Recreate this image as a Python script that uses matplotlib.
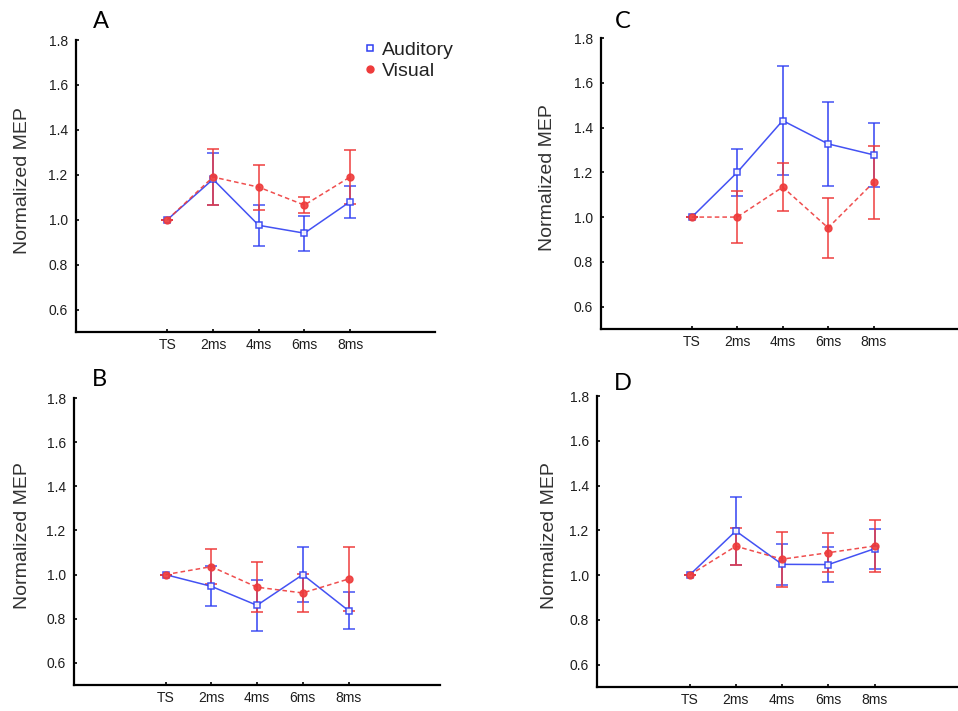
import matplotlib
matplotlib.use("Agg")
import matplotlib.pyplot as plt
from matplotlib.lines import Line2D

# interval labels on the x axis
intervals = ['TS', '2ms', '4ms', '6ms', '8ms']

# normalized MEP means and error bars, per panel
a_aud = [1.0, 1.18, 0.975, 0.94, 1.08]
a_aud_err = [0, 0.115, 0.092, 0.078, 0.072]
a_vis = [1.0, 1.19, 1.145, 1.065, 1.19]
a_vis_err = [0, 0.125, 0.10, 0.035, 0.12]

b_aud = [1.0, 0.947, 0.861, 1.0, 0.837]
b_aud_err = [0, 0.09, 0.115, 0.125, 0.084]
b_vis = [1.0, 1.036, 0.943, 0.917, 0.98]
b_vis_err = [0, 0.078, 0.113, 0.088, 0.143]

c_aud = [1.0, 1.20, 1.431, 1.327, 1.278]
c_aud_err = [0, 0.106, 0.245, 0.186, 0.142]
c_vis = [1.0, 1.0, 1.134, 0.952, 1.155]
c_vis_err = [0, 0.115, 0.107, 0.133, 0.163]

d_aud = [1.0, 1.197, 1.048, 1.047, 1.118]
d_aud_err = [0, 0.153, 0.093, 0.08, 0.09]
d_vis = [1.0, 1.129, 1.071, 1.10, 1.13]
d_vis_err = [0, 0.082, 0.123, 0.087, 0.115]

yticks = [0.6, 0.8, 1.0, 1.2, 1.4, 1.6, 1.8]

BLUE = '#2f3ff2'
RED = '#ee3b3b'
W, H = 958, 711

plt.rcParams['font.family'] = ['Liberation Sans', 'DejaVu Sans']

fig = plt.figure(figsize=(W / 100, H / 100), dpi=100)

# letter, data, axes box in px (left, top, right, bottom), x max, ylabel x, letter x/y
panels = [
    ('A', a_aud, a_aud_err, a_vis, a_vis_err, 76, 40, 435, 332, 5.86, 31, 101, 21),
    ('B', b_aud, b_aud_err, b_vis, b_vis_err, 74, 398, 440, 685, 6.0, 31, 99, 380),
    ('C', c_aud, c_aud_err, c_vis, c_vis_err, 601, 38, 958, 329, 5.86, 556, 623, 22),
    ('D', d_aud, d_aud_err, d_vis, d_vis_err, 597, 396, 958, 687, 5.8, 558, 623, 384),
]

x = list(range(len(intervals)))

for (letter, aud, aud_err, vis, vis_err, l, t, r, b, xmax, yl_x, lx, ly) in panels:
    ax = fig.add_axes([l / W, 1 - b / H, (r - l) / W, (b - t) / H])
    ax.errorbar(x, aud, yerr=aud_err, color=BLUE, lw=1.1, ls='-',
                marker='s', ms=4.5, mfc='white', mec=BLUE, mew=1.1,
                elinewidth=1.2, capsize=4, capthick=1.2, alpha=0.9)
    ax.errorbar(x, vis, yerr=vis_err, color=RED, lw=1.1, ls=(0, (3, 2)),
                marker='o', ms=5, mfc=RED, mec=RED,
                elinewidth=1.2, capsize=4, capthick=1.2, alpha=0.9)
    ax.set_xlim(-2, xmax)
    ax.set_ylim(0.5, 1.8)
    ax.set_xticks(x)
    ax.set_xticklabels(intervals)
    ax.set_yticks(yticks)
    ax.set_yticklabels(['%.1f' % v for v in yticks])
    for s in ('top', 'right'):
        ax.spines[s].set_visible(False)
    for s in ('left', 'bottom'):
        ax.spines[s].set_linewidth(1.6)
    ax.tick_params(direction='in', length=2.5, width=1.2, labelsize=10,
                   labelcolor='#1e1e1e')
    ax.tick_params(axis='y', pad=6)
    ax.tick_params(axis='x', pad=4)
    ax.set_ylabel('Normalized MEP', fontsize=14, color='#333333')
    ax.yaxis.set_label_coords((yl_x - l) / (r - l), 0.52)
    fig.text(lx / W, 1 - ly / H, letter, fontsize=17, family='Lato',
             ha='center', va='center', color='black')

    if letter == 'A':
        handles = [
            Line2D([], [], ls='none', marker='s', ms=5, mfc='white', mec=BLUE, mew=1.1),
            Line2D([], [], ls='none', marker='o', ms=5, mfc=RED, mec=RED),
        ]
        ax.legend(handles, ['Auditory', 'Visual'], frameon=False, loc='upper left',
                  bbox_to_anchor=(0.77, 1.028), handlelength=0.8, handletextpad=0.2,
                  borderpad=0, labelspacing=0.18, fontsize=14, labelcolor='#222222')

fig.savefig('out.png', dpi=100)
